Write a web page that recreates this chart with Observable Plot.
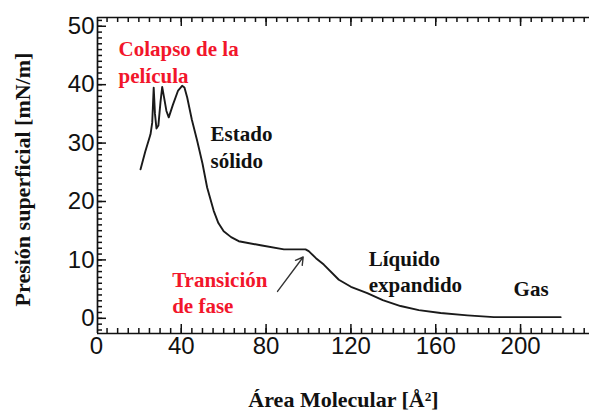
<!DOCTYPE html>
<html><head><meta charset="utf-8">
<script src="https://cdn.jsdelivr.net/npm/d3@7"></script>
<script src="https://cdn.jsdelivr.net/npm/@observablehq/plot@0.6"></script>
<style>body{margin:0;background:#fff}</style>
</head><body><div id="chart"></div>
<script>
// Isotherm data (area Å², surface pressure mN/m)
const area = [20.8,23,25.5,26.3,26.6,27.0,27.6,28.3,29.2,30.2,31.0,31.8,33,34.1,36,38.5,40.4,41.5,42.8,45,47.5,50,52.2,55.3,57.5,60,63.5,67.1,77.4,88.4,98.6,100.1,103.5,107.2,114.3,120,127.7,135,143.4,152,162.3,174.9,187.4,218.9];
const pressure = [25.5,28.5,31.5,33.5,36,39.5,35,32.5,33,37,39.6,38,35.5,34.4,36.5,39,39.8,39.5,37.8,34,30.4,26.5,22.4,18.4,16.3,14.9,13.9,13.2,12.5,11.8,11.8,11.5,10.3,9.2,6.6,5.4,4.3,3.1,2.1,1.4,0.9,0.5,0.2,0.2];

const xTickLabels = [0,40,80,120,160,200];
const yTickLabels = [0,10,20,30,40,50];

const annotationText = ["Colapso de la\npelícula","Estado\nsólido","Transición\nde fase","Líquido\nexpandido","Gas"];
const annotationX = [10.4,53.8,35.7,128.4,196.7];
const annotationY = [44.1,29.5,4.6,8.2,5.2];
const annotationColor = ["#f2162b","#111","#f2162b","#111","#111"];

const arrowFrom = [85.4,4.6];
const arrowTo = [97.5,10.5];

const xDomain = [0.5,232.5];
const yDomain = [-2.6,51.5];

const curve = area.map((a,i)=>({a, p: pressure[i]}));
const notes = annotationText.map((t,i)=>({t, x: annotationX[i], y: annotationY[i], c: annotationColor[i]}));

const minorX = d3.range(0,235,5).filter(v=>v>=xDomain[0]);
const majorX = d3.range(0,235,40).filter(v=>v>=xDomain[0]);
const minorY = d3.range(-2,52,1);
const majorY = d3.range(0,52,10);

const H = 414, mT = 17, mB = 81, W = 589, mL = 97;
const pxX = (xDomain[1]-xDomain[0])/(W-mL);   // data units per px
const pxY = (yDomain[1]-yDomain[0])/(H-mT-mB);

const serif = "'Liberation Serif','Times New Roman',serif";
const tk = {stroke: "#111", strokeWidth: 1.5};

const chart = Plot.plot({
  width: W, height: H,
  marginLeft: mL, marginRight: 0, marginTop: mT, marginBottom: mB,
  style: {fontFamily: "'Liberation Sans', Arial, sans-serif", fontSize: "24px", background: "#fff", color: "#111"},
  x: {domain: xDomain},
  y: {domain: yDomain},
  marks: [
    // inward ticks bottom
    Plot.ruleX(minorX, {...tk, x: d => d, y1: () => yDomain[0], y2: () => yDomain[0] + 5*pxY}),
    Plot.ruleX(majorX, {...tk, x: d => d, y1: () => yDomain[0], y2: () => yDomain[0] + 9*pxY}),
    // inward ticks top
    Plot.ruleX(minorX, {...tk, x: d => d, y1: () => yDomain[1], y2: () => yDomain[1] - 5*pxY}),
    Plot.ruleX(majorX, {...tk, x: d => d, y1: () => yDomain[1], y2: () => yDomain[1] - 9*pxY}),
    // inward ticks left
    Plot.ruleY(minorY, {...tk, y: d => d, x1: () => xDomain[0], x2: () => xDomain[0] + 5*pxX}),
    Plot.ruleY(majorY, {...tk, y: d => d, x1: () => xDomain[0], x2: () => xDomain[0] + 9*pxX}),
    // frame lines
    Plot.ruleX([xDomain[0]], {stroke: "#111", strokeWidth: 1.7}),
    Plot.ruleY([yDomain[0], yDomain[1]], {stroke: "#111", strokeWidth: 1.7}),
    Plot.axisX({ticks: xTickLabels, tickSize: 0, tickPadding: 3, label: null, fill: "#111"}),
    Plot.axisY({ticks: yTickLabels, tickSize: 0, tickPadding: 3, label: null, fill: "#111"}),
    // curve
    Plot.line(curve, {x: "a", y: "p", stroke: "#1a1a1a", strokeWidth: 1.9, strokeLinejoin: "round"}),
    // arrow
    Plot.arrow([{x1: arrowFrom[0], y1: arrowFrom[1], x2: arrowTo[0], y2: arrowTo[1]}], {x1: "x1", y1: "y1", x2: "x2", y2: "y2", stroke: "#333", strokeWidth: 1.4, headLength: 9}),
    // annotations
    Plot.text(notes, {x: "x", y: "y", text: "t", fill: "c", textAnchor: "start", lineAnchor: "middle", lineHeight: 1.27, fontFamily: serif, fontWeight: "bold", fontSize: 21}),
    // axis titles
    Plot.text(["Área Molecular [Å²]"], {frameAnchor: "bottom", textAnchor: "middle", dy: 73, fontFamily: serif, fontWeight: "bold", fontSize: 22, fill: "#111"}),
    Plot.text(["Presión superficial [mN/m]"], {frameAnchor: "left", textAnchor: "middle", dx: -75, dy: 4, rotate: -90, fontFamily: serif, fontWeight: "bold", fontSize: 22, fill: "#111"})
  ]
});
document.getElementById("chart").appendChild(chart);
</script>
</body></html>
